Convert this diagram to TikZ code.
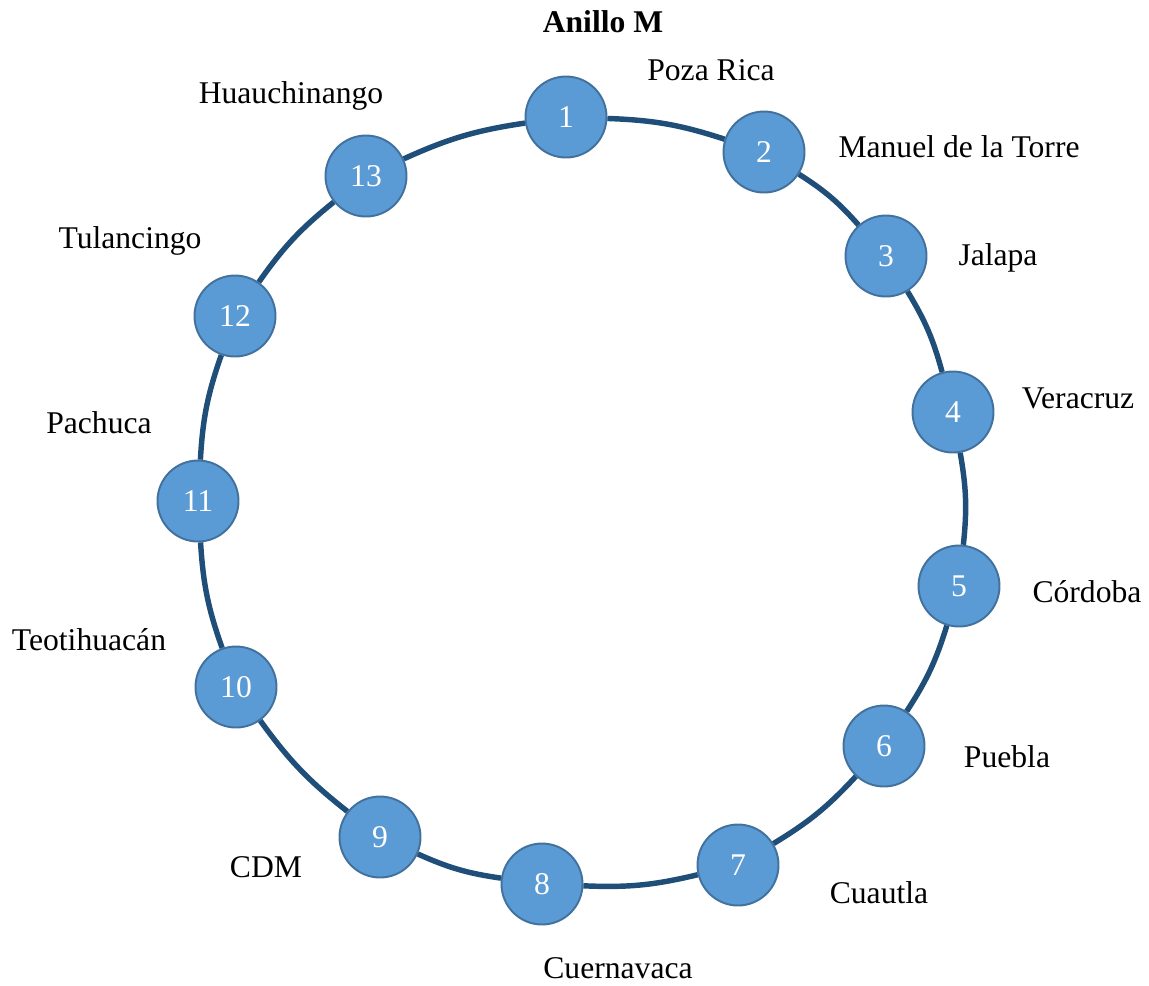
\documentclass[tikz,border=0pt]{standalone}
\usepackage{fontspec}
\setmainfont{Liberation Serif}
\definecolor{ringblue}{HTML}{1F4E79}
\definecolor{stationfill}{HTML}{5B9BD5}
\definecolor{stationedge}{HTML}{41719C}
\tikzset{
	station/.style={circle, fill=stationfill, draw=stationedge, line width=1.1pt,
		minimum size=1.62cm, inner sep=0pt, text=white, font=\fontsize{18}{20}\selectfont},
	placename/.style={font=\fontsize{18}{20}\selectfont, inner sep=0pt},
	ring/.style={draw=ringblue, line width=3.1pt}
}
\begin{document}
\begin{tikzpicture}[x=0.02cm, y=-0.02cm]
			\useasboundingbox (0,0) rectangle (1149,985);
			
			%
			\coordinate (P1) at (566,117);
			\coordinate (P2) at (764,152);
			\coordinate (P3) at (886,256);
			\coordinate (P4) at (953,412);
			\coordinate (P5) at (959,586);
			\coordinate (P6) at (884,746);
			\coordinate (P7) at (738,865);
			\coordinate (P8) at (542,884);
			\coordinate (P9) at (380,837);
			\coordinate (P10) at (236,687);
			\coordinate (P11) at (198,501);
			\coordinate (P12) at (235,316);
			\coordinate (P13) at (366,176);
			
			\foreach \i in {1,...,13} {
				\node[station] (S\i) at (P\i) {\i};
			}
			
			\foreach \i/\j in {1/2,2/3,3/4,4/5,5/6,6/7,7/8,8/9,9/10,10/11,11/12,12/13,13/1} {
				\draw[ring] (S\i) to[bend left=8] (S\j);
			}
			
			\node[placename, font=\fontsize{18}{20}\selectfont\bfseries] (title) at (603,22) {Anillo M};
			
			\node[placename] (L1) at (711,70) {Poza Rica};
			\node[placename] (L2) at (959,147) {Manuel de la Torre};
			\node[placename] (L3) at (998,258) {Jalapa};
			\node[placename] (L4) at (1078,398) {Veracruz};
			\node[placename] (L5) at (1087,592) {Córdoba};
			\node[placename] (L6) at (1007,757) {Puebla};
			\node[placename] (L7) at (879,893) {Cuautla};
			\node[placename] (L8) at (618,968) {Cuernavaca};
			\node[placename] (L9) at (266,867) {CDM};
			\node[placename] (L10) at (89,640) {Teotihuacán};
			\node[placename] (L11) at (99,423) {Pachuca};
			\node[placename] (L12) at (130,241) {Tulancingo};
			\node[placename] (L13) at (291,96) {Huauchinango};
	\end{tikzpicture}
\end{document}
